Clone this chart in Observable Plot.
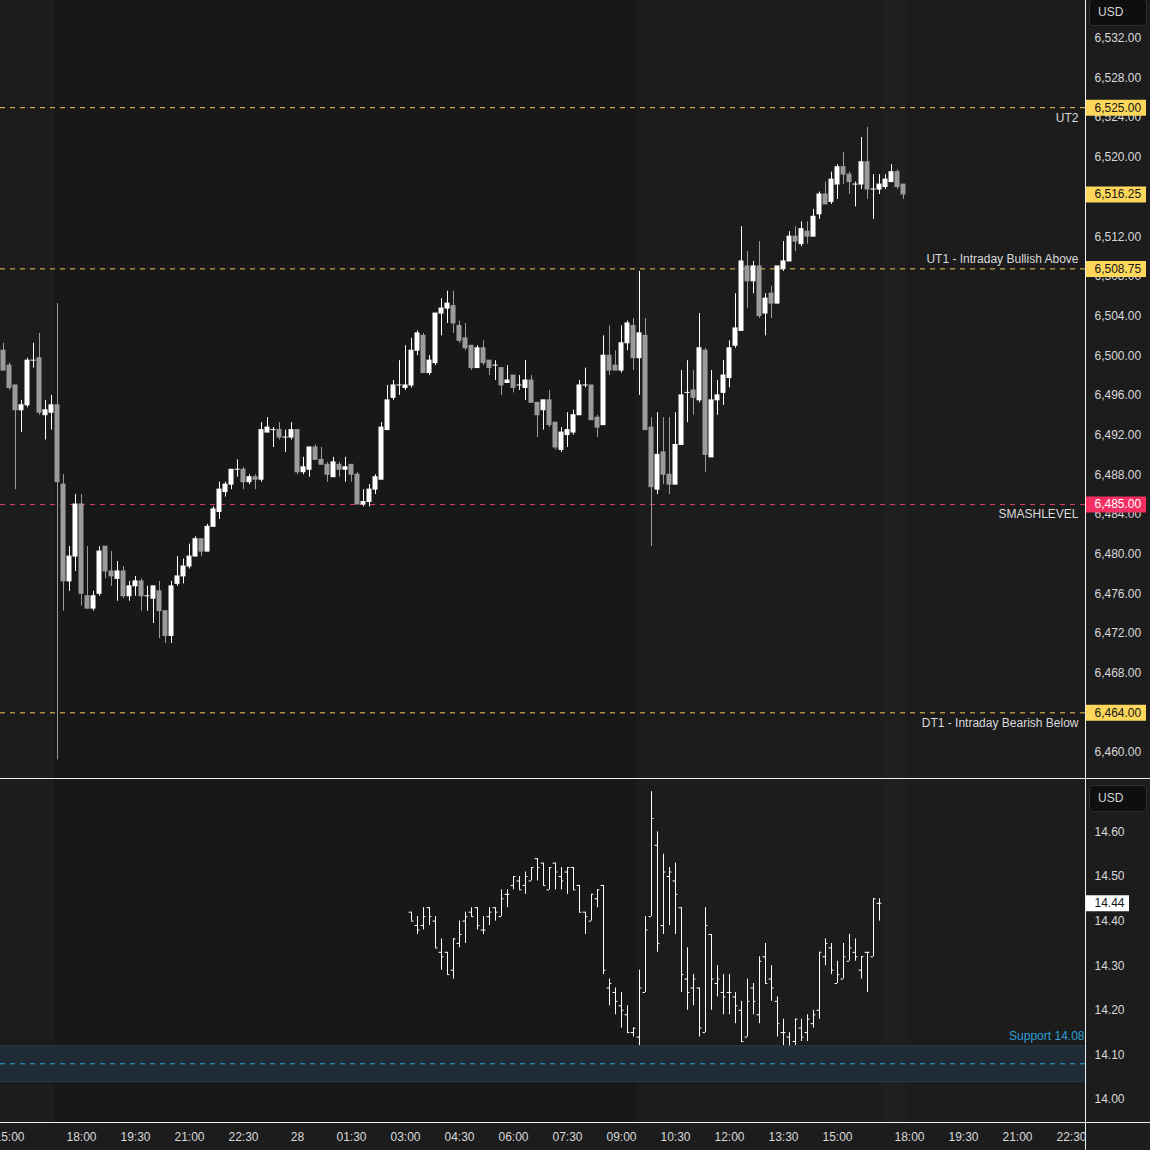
<!DOCTYPE html>
<html>
<head>
<meta charset="utf-8">
<script src="https://cdn.jsdelivr.net/npm/d3@7"></script>
<script src="https://cdn.jsdelivr.net/npm/@observablehq/plot@0.6"></script>
<style>
html, body { margin: 0; padding: 0; background: #1c1c1c; }
#chart { position: relative; width: 1150px; height: 1150px; overflow: hidden; background: #1c1c1c; font-family: "Liberation Sans", Arial, sans-serif; }
.pane { position: absolute; overflow: hidden; }
.sep { position: absolute; background: #f0f0f0; }
.usd { position: absolute; left: 1089px; width: 58px; height: 27px; box-sizing: border-box; border: 1px solid #2e2e2e; border-radius: 4px; background: #0e0e0e; color: #d6d6d6; font-size: 12px; line-height: 25px; padding-left: 8px; }
</style>
</head>
<body>
<div id="chart"></div>
<script>
// ---------------- DATA ----------------
// ES 10-minute candles (bar index = position in array)
const esOpen = [
6500.5,6499,6497,6494.5,6495,6499.5,6499.75,6494,6494.25,6495,
6487,6477.25,6479.75,6485,6475.75,6474.5,6476,6480.75,6478.25,6477.5,
6478.25,6475.75,6476.75,6477.25,6475.75,6475.5,6476.25,6474.25,6471.75,6477,
6477.75,6478.75,6479.75,6481.5,6480.25,6482.75,6484.25,6486.25,6487,6488.5,
6488.5,6487.25,6487.75,6487.5,6492.25,6492.5,6492.5,6491.75,6491.75,6492.5,
6488.25,6488.5,6490.75,6489.5,6489,6487.75,6489,6488.5,6489,6488,
6485,6485.25,6486.5,6487.5,6492.5,6495.75,6497,6496.75,6497,6500.5,
6502,6498.25,6499.25,6504.25,6504.75,6505,6503,6501.75,6501,6498.75,
6500.75,6499.5,6499,6498.75,6497.25,6498,6497,6496.75,6497.5,6495.25,
6494.5,6495.5,6493.25,6490.5,6492,6492.25,6494,6497,6497,6493.75,
6493,6500,6499,6498.5,6501.25,6503,6499.75,6502,6492.75,6486.5,
6490.25,6488,6487,6491,6496.25,6496.5,6495.5,6500.5,6489.75,6495.5,
6496.25,6497.75,6501,6502.5,6509,6507.5,6509,6504.25,6506.25,6505.25,
6508.75,6509.5,6512,6511.25,6512.5,6512,6514.25,6516.25,6515.5,6517.25,
6519,6518.25,6517.25,6517.25,6519.5,6516.75,6516.75,6517,6517.5,6518.5,
6517.25];
const esHigh = [
6501.25,6499.25,6497,6495.5,6499.75,6501.25,6502.25,6495.5,6496,6505.25,
6488,6480.75,6486,6486,6480.75,6476.25,6480.75,6480.75,6480.25,6479.25,
6478.75,6477.25,6477.75,6477.5,6476.75,6476.75,6477.25,6474.25,6477.25,6479.75,
6479.5,6481,6481.75,6481.5,6483,6484.75,6487.25,6487.25,6488.5,6489.5,
6488.75,6488,6488,6493.25,6493.75,6492.75,6493.25,6492.5,6493.25,6492.5,
6489.75,6490.75,6491,6490.75,6489.25,6489.75,6489.25,6489.75,6489,6488.25,
6486.5,6487,6488,6493.25,6497,6497.5,6499.5,6501,6501.75,6502.5,
6502.25,6500,6504.25,6505.75,6506.5,6506.5,6503.5,6503.25,6501,6501,
6501.5,6499.5,6499.5,6498.75,6499,6498,6498,6499.5,6498,6495.25,
6495.5,6496.5,6493.25,6492.75,6494.25,6494.5,6497.5,6498.75,6497,6494,
6502,6503,6500.5,6503,6503.5,6503.75,6508.5,6503.75,6493.75,6494.25,
6493.75,6493.75,6494.25,6498.5,6499.5,6498.5,6504.25,6500.75,6498.5,6497.5,
6499.5,6501.5,6506.25,6513,6510.5,6509.5,6511.5,6506.25,6507,6509,
6511.5,6512.5,6513,6513.5,6513.5,6514.75,6516.5,6517.5,6518.5,6519.25,
6520.5,6518.5,6517.5,6522,6523,6518.25,6518.25,6518.25,6519.25,6518.75,
6517.25];
const esLow = [
6498.5,6496.5,6486.5,6492.25,6494.75,6498.75,6494,6491.5,6492.5,6459.25,
6474.25,6476.25,6478.25,6474.75,6474.5,6474.25,6475.75,6477.5,6476.75,6475.25,
6475.5,6475.25,6475.75,6474.25,6474.25,6473,6471.5,6471,6471,6476.75,
6477,6478.5,6479.75,6479.75,6480.25,6482.75,6483.5,6485.75,6486.5,6487.75,
6486.5,6487,6486.5,6487.25,6492.25,6490.75,6491.5,6490.25,6491.5,6488,
6488,6487.75,6489.5,6489,6487.25,6487.75,6487.75,6487.25,6487.25,6485,
6484.75,6484.75,6486,6487.5,6492.5,6495.5,6496,6496.5,6496.75,6500,
6498.25,6498,6499,6502,6503.25,6502.25,6501.25,6500.5,6498.5,6498.75,
6499,6498,6497.5,6496,6497.25,6496.25,6496.5,6495.5,6495.25,6491.75,
6492.5,6492.75,6490.5,6490.25,6490.75,6492,6494,6496.75,6493.5,6491.75,
6493,6498,6498.5,6498.25,6500.5,6498.5,6496,6492.5,6480.75,6486,
6487,6486,6487,6491,6493.25,6494,6495.25,6488.25,6489.75,6494,
6495,6496.75,6500.75,6502.5,6504.75,6506.25,6503.75,6502,6503.75,6505.25,
6508.5,6509.5,6510.5,6511,6511.25,6512,6513.75,6515.25,6515.25,6515.75,
6517.25,6516.25,6515,6516.75,6515.75,6513.75,6516.25,6516.75,6517.5,6516.75,
6515.75];
const esClose = [
6498.5,6496.75,6494.5,6495,6499.5,6499.5,6494.25,6494.5,6495,6487.25,
6477.25,6479.75,6485,6476,6474.5,6475.75,6480.25,6478.25,6477.75,6478.25,
6475.75,6476.75,6477.25,6475.75,6475.75,6476.75,6474.25,6471.75,6476.75,6477.75,
6478.75,6479.75,6481.5,6480.25,6482.75,6484.5,6486.5,6487,6488.5,6488.5,
6487.25,6487.75,6487.5,6492.5,6492.75,6492.5,6491.75,6491.75,6492.5,6488.25,
6488.75,6490.75,6489.5,6489,6488,6489.25,6488.5,6488.75,6488,6485,
6485.25,6486.5,6487.75,6492.75,6495.5,6497,6497,6497,6500.5,6502.25,
6498.25,6499.5,6504.25,6504.75,6505.25,6503.25,6501.5,6500.75,6498.75,6500.75,
6499.25,6498.75,6499,6497,6497.5,6496.75,6497,6497.5,6495.25,6494,
6495.5,6493,6490.75,6492.25,6492.5,6494,6497,6497,6493.5,6492.75,
6500,6498.5,6498.5,6501.25,6503.25,6499.75,6502.25,6492.5,6486.75,6490,
6488,6487,6491,6496,6496.25,6495.75,6500.75,6490,6495.5,6496,
6498,6500.75,6502.75,6509.5,6507.5,6509,6504,6505.75,6505.25,6509,
6509.5,6512,6511.5,6512.75,6512,6514,6516.25,6515.25,6517.75,6519,
6518.25,6517.5,6517.25,6519.5,6516.75,6516.75,6517.25,6517.75,6518.5,6517,
6516.25];

// Volatility index OHLC bars, starting at bar index vixFirstBar
const vixFirstBar = 68;
const vixOpen = [
14.42,14.39,14.39,14.43,14.40,14.33,14.33,14.29,14.35,14.40,
14.42,14.43,14.38,14.41,14.43,14.41,14.46,14.48,14.49,14.48,
14.49,14.54,14.53,14.47,14.53,14.50,14.51,14.52,14.48,14.42,
14.40,14.45,14.48,14.25,14.24,14.21,14.19,14.15,14.14,14.24,
14.41,14.57,14.39,14.50,14.49,14.43,14.27,14.25,14.25,14.15,
14.37,14.26,14.24,14.24,14.23,14.20,14.14,14.25,14.19,14.32,
14.27,14.22,14.15,14.14,14.13,14.16,14.15,14.17,14.20,14.32,
14.34,14.26,14.27,14.31,14.33,14.29,14.33,14.32,14.44];
const vixHigh = [
14.42,14.41,14.43,14.43,14.41,14.36,14.33,14.36,14.40,14.42,
14.43,14.43,14.41,14.43,14.43,14.47,14.47,14.50,14.50,14.51,
14.52,14.54,14.53,14.52,14.53,14.52,14.52,14.52,14.48,14.42,
14.46,14.47,14.48,14.27,14.25,14.24,14.21,14.16,14.29,14.41,
14.69,14.60,14.55,14.52,14.53,14.43,14.34,14.28,14.25,14.43,
14.37,14.30,14.28,14.28,14.24,14.22,14.27,14.26,14.32,14.35,
14.30,14.23,14.18,14.15,14.18,14.18,14.19,14.20,14.33,14.36,
14.35,14.31,14.35,14.37,14.36,14.32,14.33,14.45,14.45];
const vixLow = [
14.40,14.37,14.38,14.39,14.34,14.29,14.28,14.27,14.34,14.35,
14.41,14.38,14.37,14.39,14.40,14.41,14.43,14.47,14.47,14.46,
14.49,14.49,14.48,14.47,14.47,14.47,14.46,14.47,14.42,14.37,
14.40,14.43,14.28,14.21,14.19,14.16,14.15,14.14,14.12,14.24,
14.41,14.33,14.37,14.39,14.37,14.24,14.20,14.21,14.14,14.15,
14.20,14.23,14.19,14.19,14.17,14.13,14.14,14.19,14.17,14.26,
14.22,14.14,14.12,14.12,14.12,14.13,14.13,14.16,14.18,14.30,
14.28,14.26,14.27,14.31,14.31,14.27,14.24,14.32,14.40];
const vixClose = [
14.40,14.38,14.41,14.41,14.34,14.32,14.28,14.36,14.37,14.41,
14.41,14.39,14.38,14.42,14.42,14.45,14.46,14.50,14.47,14.50,
14.52,14.52,14.48,14.52,14.51,14.49,14.52,14.47,14.42,14.41,
14.46,14.47,14.29,14.26,14.22,14.20,14.15,14.16,14.25,14.38,
14.63,14.35,14.51,14.51,14.46,14.28,14.24,14.27,14.16,14.39,
14.27,14.27,14.23,14.24,14.21,14.13,14.22,14.22,14.31,14.26,
14.25,14.17,14.15,14.12,14.18,14.14,14.18,14.19,14.33,14.35,
14.29,14.28,14.32,14.34,14.32,14.32,14.33,14.45,14.44];

// Time axis
const timeTickBars = [1,13,22,31,40,49,58,67,76,85,94,103,112,121,130,139,151,160,169,178];
const timeTickLabels = ["15:00","18:00","19:30","21:00","22:30","28","01:30","03:00","04:30","06:00",
  "07:30","09:00","10:30","12:00","13:30","15:00","18:00","19:30","21:00","22:30"];

// Session shading (bar-index boundaries)
const sessionStart = [8.5, 146.5];
const sessionEnd = [105.5, 150.5];
const sessionKind = ["overnight", "late"];

// Price axis ticks
const priceTicks = d3.range(6460, 6533, 4);
const vixTicks = [14.0, 14.1, 14.2, 14.3, 14.4, 14.5, 14.6];

// Key levels
const levelPrices = [6525, 6508.75, 6485, 6464];
const levelNames = ["UT2", "UT1 - Intraday Bullish Above", "SMASHLEVEL", "DT1 - Intraday Bearish Below"];
const levelKinds = ["target", "target", "smash", "target"];
const levelPlace = ["below", "above", "below", "below"];

// Support zone on the lower pane
const supportLevel = 14.08;
const supportZone = [14.04, 14.12];
const supportName = "Support 14.08";

// ---------------- STYLE ----------------
const FONT = "'Liberation Sans', Arial, sans-serif";
const UP = "#ffffff", DOWN = "#9b9b9b";
const LEVEL_LINE = {target: "#f2cd52", smash: "#e13b64"};
const LEVEL_BOX = {target: "#fdd75c", smash: "#f52e63"};
const LEVEL_TXT = {target: "#151515", smash: "#ffffff"};
const SESSION_FILL = {overnight: "#181818", late: "#1f1f1f"};
const TEXT = "#d9d9d9";

const X_DOMAIN = [-0.5, 180.3333];
const UPPER_Y = [6457.379, 6535.806];
const LOWER_Y = [13.9484, 14.7175];

const fmtPrice = d3.format(",.2f");
const fmtVix = d3.format(".2f");

// ---------------- TABLES ----------------
const candles = esOpen.map((o, i) => ({i, open: o, high: esHigh[i], low: esLow[i], close: esClose[i], up: esClose[i] >= o}));
const vix = vixOpen.map((o, k) => ({i: vixFirstBar + k, open: o, high: vixHigh[k], low: vixLow[k], close: vixClose[k]}));
const sessions = sessionStart.map((s, k) => ({start: s, end: sessionEnd[k], kind: sessionKind[k]}));
const levels = levelPrices.map((p, k) => ({price: p, name: levelNames[k], kind: levelKinds[k], place: levelPlace[k]}));
const tickLabelByBar = new Map(timeTickBars.map((b, k) => [b, timeTickLabels[k]]));

const lastClose = esClose[esClose.length - 1];
const upperBoxes = [
  ...levels.map(l => ({value: l.price, kind: l.kind})),
  {value: lastClose, kind: "target"}
];
const lastVix = vixClose[vixClose.length - 1];
// tick labels completely hidden behind a price box are not drawn (as the platform does)
const visiblePriceTicks = priceTicks.filter(t => upperBoxes.every(b => Math.abs(b.value - t) > 0.5));

const svgStyle = {background: "transparent", fontFamily: FONT, fontSize: "12px", color: TEXT, overflow: "hidden"};

// ---------------- UPPER PANE ----------------
const upper = Plot.plot({
  width: 1085, height: 778, margin: 0,
  style: svgStyle,
  x: {domain: X_DOMAIN, axis: null},
  y: {domain: UPPER_Y, axis: null},
  marks: [
    Plot.rect(sessions, {x1: "start", x2: "end", fill: d => SESSION_FILL[d.kind]}),
    Plot.ruleY(levels, {y: "price", stroke: d => LEVEL_LINE[d.kind], strokeDasharray: "5,5", strokeWidth: 1}),
    Plot.text(levels, {filter: d => d.place === "below", y: "price", text: "name", frameAnchor: "right", textAnchor: "end", dx: -7, dy: 10, fill: TEXT, fontSize: 12}),
    Plot.text(levels, {filter: d => d.place === "above", y: "price", text: "name", frameAnchor: "right", textAnchor: "end", dx: -7, dy: -10, fill: TEXT, fontSize: 12}),
    Plot.ruleX(candles, {x: "i", y1: "low", y2: "high", stroke: d => d.up ? UP : DOWN, strokeWidth: 1}),
    Plot.rect(candles, {x1: d => d.i - 0.4167, x2: d => d.i + 0.4167, y1: "open", y2: "close", fill: d => d.up ? UP : DOWN, insetTop: -0.5, insetBottom: -0.5})
  ]
});

const upperAxis = Plot.plot({
  width: 64, height: 778, margin: 0,
  style: svgStyle,
  x: {axis: null},
  y: {domain: UPPER_Y, axis: null},
  marks: [
    Plot.text(visiblePriceTicks, {y: d => d, text: d => fmtPrice(d), frameAnchor: "left", dx: 8, textAnchor: "start", fill: TEXT, fontSize: 12}),
    Plot.tickY(upperBoxes, {y: "value", stroke: d => LEVEL_BOX[d.kind], strokeWidth: 16, insetRight: 4}),
    Plot.text(upperBoxes, {y: "value", text: d => fmtPrice(d.value), frameAnchor: "left", dx: 8, textAnchor: "start", fill: d => LEVEL_TXT[d.kind], fontSize: 12})
  ]
});

// ---------------- LOWER PANE ----------------
const lower = Plot.plot({
  width: 1085, height: 371, marginTop: 0, marginLeft: 0, marginRight: 0, marginBottom: 28,
  style: svgStyle,
  x: {domain: X_DOMAIN, ticks: timeTickBars, tickFormat: b => tickLabelByBar.get(b), tickSize: 0, tickPadding: 10, label: null},
  y: {domain: LOWER_Y, axis: null},
  marks: [
    Plot.rect(sessions, {x1: "start", x2: "end", fill: d => SESSION_FILL[d.kind]}),
    Plot.ruleX(vix, {x: "i", y1: "low", y2: "high", stroke: UP, strokeWidth: 1}),
    Plot.ruleY(vix, {x1: d => d.i - 0.4, x2: "i", y: "open", stroke: UP, strokeWidth: 1}),
    Plot.ruleY(vix, {x1: "i", x2: d => d.i + 0.4, y: "close", stroke: UP, strokeWidth: 1}),
    Plot.rect([supportZone], {y1: d => d[0], y2: d => d[1], fill: "#1f2b35"}),
    Plot.ruleY(supportZone, {stroke: "#2a3d4c", strokeWidth: 1}),
    Plot.ruleY([supportLevel], {stroke: "#2aa6e0", strokeDasharray: "5,5", strokeWidth: 1}),
    Plot.text([supportZone[1]], {y: d => d, text: () => supportName, frameAnchor: "right", textAnchor: "end", dx: -1, dy: -10, fill: "#2d9fd8", fontSize: 12})
  ]
});

const lowerAxis = Plot.plot({
  width: 64, height: 343, margin: 0,
  style: svgStyle,
  x: {axis: null},
  y: {domain: LOWER_Y, axis: null},
  marks: [
    Plot.text(vixTicks, {y: d => d, text: d => fmtVix(d), frameAnchor: "left", dx: 8, textAnchor: "start", fill: TEXT, fontSize: 12}),
    Plot.tickY([lastVix], {y: d => d, stroke: "#ffffff", strokeWidth: 16, insetRight: 21}),
    Plot.text([lastVix], {y: d => d, text: d => fmtVix(d), frameAnchor: "left", dx: 8, textAnchor: "start", fill: "#151515", fontSize: 12})
  ]
});

// ---------------- LAYOUT ----------------
const chart = document.getElementById("chart");
function pane(node, left, top, w, h) {
  const d = document.createElement("div");
  d.className = "pane";
  Object.assign(d.style, {left: left + "px", top: top + "px", width: w + "px", height: h + "px"});
  d.appendChild(node);
  chart.appendChild(d);
}
function line(left, top, w, h) {
  const d = document.createElement("div");
  d.className = "sep";
  Object.assign(d.style, {left: left + "px", top: top + "px", width: w + "px", height: h + "px"});
  chart.appendChild(d);
}
function usd(top) {
  const d = document.createElement("div");
  d.className = "usd";
  d.style.top = top + "px";
  d.textContent = "USD";
  chart.appendChild(d);
}
pane(upper, 0, 0, 1085, 778);
pane(upperAxis, 1086, 0, 64, 778);
pane(lower, 0, 779, 1085, 371);
pane(lowerAxis, 1086, 779, 64, 343);
line(0, 778, 1150, 1);
line(0, 1122, 1150, 1);
line(1085, 0, 1, 1150);
usd(-1);
usd(785);
</script>
</body>
</html>
